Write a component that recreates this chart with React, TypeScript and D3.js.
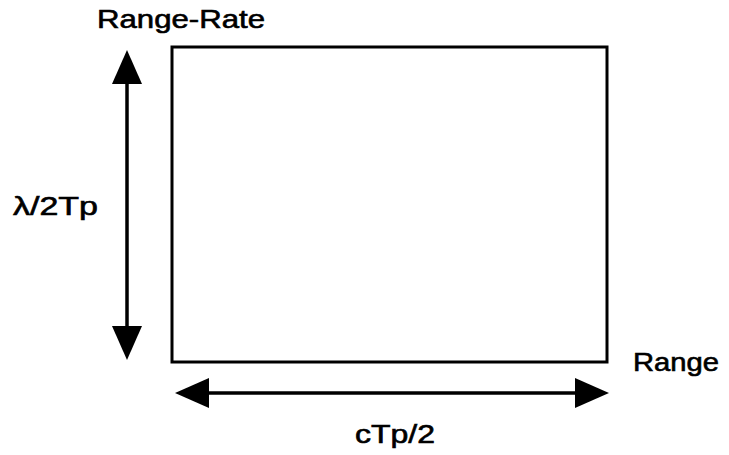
import { useEffect, useRef } from "react";
import * as d3 from "d3";

// unit extents of the resolution cell (range, range-rate)
const rangeExtent = [0, 1];
const rateExtent = [0, 1];

const axisNames = ["Range", "Range-Rate"];
const cellWidths = ["cTp/2", "λ/2Tp"];

export default function App() {
  const ref = useRef<SVGSVGElement | null>(null);

  useEffect(() => {
    const w = 729, h = 455;
    const svg = d3.select(ref.current).attr("width", w).attr("height", h);
    svg.selectAll("*").remove();

    const x = d3.scaleLinear().domain(rangeExtent).range([172, 607]);
    const y = d3.scaleLinear().domain(rateExtent).range([362, 47]);

    const font = "'Liberation Sans', Arial, Helvetica, sans-serif";

    // the cell
    svg.append("rect")
      .attr("x", x(0))
      .attr("y", y(1))
      .attr("width", x(1) - x(0))
      .attr("height", y(0) - y(1))
      .attr("fill", "none")
      .attr("stroke", "#000")
      .attr("stroke-width", 3);

    const head = (tx: number, ty: number, dx: number, dy: number) => {
      // tip at (tx,ty), pointing along (dx,dy)
      const len = 34, half = 15;
      const bx = tx - dx * len, by = ty - dy * len;
      const p = d3.path();
      p.moveTo(tx, ty);
      p.lineTo(bx - dy * half, by + dx * half);
      p.lineTo(bx + dy * half, by - dx * half);
      p.closePath();
      svg.append("path").attr("d", p.toString()).attr("fill", "#000");
    };

    // vertical arrow (range-rate extent)
    const ax = x(0) - 45;
    const vTop = y(1) + 3, vBot = y(0) - 2;
    svg.append("line")
      .attr("x1", ax).attr("x2", ax)
      .attr("y1", vTop + 20).attr("y2", vBot - 20)
      .attr("stroke", "#000").attr("stroke-width", 3.5);
    head(ax, vTop, 0, -1);
    head(ax, vBot, 0, 1);

    // horizontal arrow (range extent)
    const ay = y(0) + 31;
    const hL = x(0) + 3, hR = x(1) + 2;
    svg.append("line")
      .attr("x1", hL + 20).attr("x2", hR - 20)
      .attr("y1", ay).attr("y2", ay)
      .attr("stroke", "#000").attr("stroke-width", 3.5);
    head(hL, ay, -1, 0);
    head(hR, ay, 1, 0);

    const label = (t: string, lx: number, ly: number, len: number) =>
      svg.append("text")
        .attr("x", lx).attr("y", ly)
        .attr("font-family", font)
        .attr("font-size", 25)
        .attr("textLength", len)
        .attr("lengthAdjust", "spacingAndGlyphs")
        .attr("fill", "#000")
        .attr("stroke", "#000")
        .attr("stroke-width", 0.6)
        .text(t);

    label(axisNames[1], 97, 28, 168);
    label(axisNames[0], 633, 371, 86);
    label(cellWidths[0], 355, 443, 80);
    label(cellWidths[1], 13, 215, 85);
  }, []);

  return (
    <div style={{ position: "absolute", left: 0, top: 0, background: "#fff" }}>
      <svg ref={ref} style={{ display: "block" }} />
    </div>
  );
}
